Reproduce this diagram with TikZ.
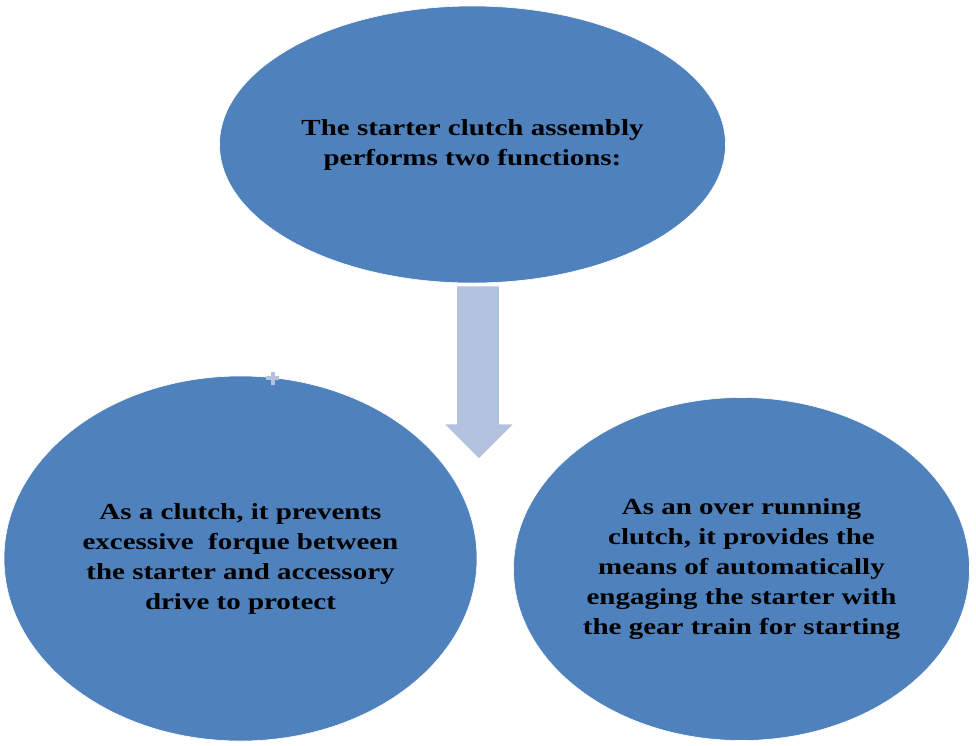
\documentclass[tikz,border=0pt]{standalone}
\usepackage{fontspec}
\setmainfont{Liberation Serif}[FakeStretch=1.26]
\usetikzlibrary{shapes.geometric}
\definecolor{ellblue}{RGB}{79,129,189}
\definecolor{arrblue}{RGB}{179,194,222}
\tikzset{
  bubble/.style={ellipse, fill=ellblue, draw=white, line width=0.6pt, inner sep=0pt,
    align=center, text=black, font=\bfseries\fontsize{23}{30}\selectfont},
  bigarrow/.style={fill=arrblue, draw=white, line width=0.8pt}
}
\begin{document}
\begin{tikzpicture}[x=1pt,y=-1pt]
\useasboundingbox (0,0) rectangle (976,745);
\node[bubble, minimum width=506pt, minimum height=277pt] (top) at (472.5,144.5)
  {The starter clutch assembly\\performs two functions:};
% block arrow
\coordinate (a1) at (456.5,286);
\coordinate (a2) at (499.5,286);
\coordinate (a3) at (499.5,424);
\coordinate (a4) at (514,424);
\coordinate (tip) at (479,459);
\coordinate (a6) at (444,424);
\coordinate (a7) at (456.5,424);
\draw[bigarrow] (a1) -- (a2) -- (a3) -- (a4) -- (tip) -- (a6) -- (a7) -- cycle;
\node[bubble, minimum width=473pt, minimum height=365pt] (left) at (240.5,558.5)
  {As a clutch, it prevents\\excessive\ \ forque between\\the starter and accessory\\drive to protect};
\node[bubble, minimum width=456pt, minimum height=343pt] (right) at (741.5,569)
  {As an over running\\clutch, it provides the\\means of automatically\\engaging the starter with\\the gear train for starting};
% small plus mark on the left bubble's rim
\coordinate (plus) at (272.5,378);
\fill[arrblue] ([xshift=-6.5pt,yshift=2pt]plus) rectangle ([xshift=6.5pt,yshift=-2pt]plus);
\fill[arrblue] ([xshift=-2pt,yshift=6.5pt]plus) rectangle ([xshift=2pt,yshift=-6.5pt]plus);
\end{tikzpicture}
\end{document}
